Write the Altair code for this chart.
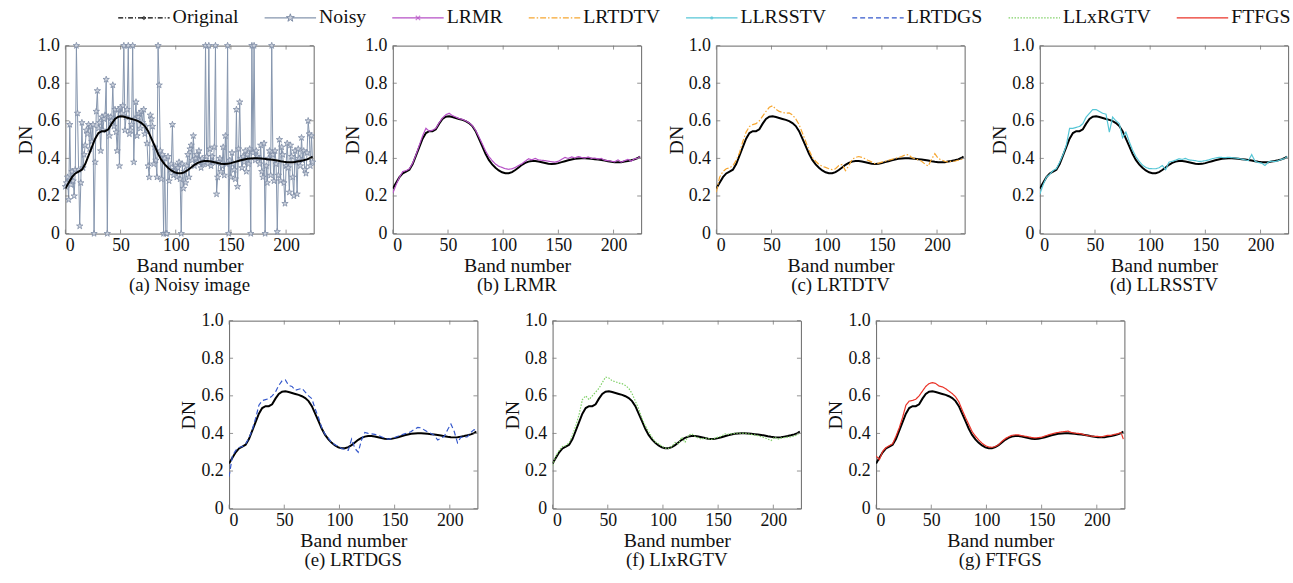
import altair as alt
import pandas as pd

# ---------------- data ----------------
BANDS = [0, 3, 6, 9, 12, 15, 18, 21, 24, 27, 30, 33, 36, 39, 42, 45, 48, 51, 54, 57,
         60, 63, 66, 69, 72, 75, 78, 81, 84, 87, 90, 93, 96, 99, 102, 105, 108, 111, 114, 117,
         120, 123, 126, 129, 132, 135, 138, 141, 144, 147, 150, 153, 156, 159, 162, 165, 168, 171, 174, 177,
         180, 183, 186, 189, 192, 195, 198, 201, 204, 207, 210, 213, 216, 219, 222, 224]

ORIGINAL = [0.240, 0.270, 0.300, 0.320, 0.330, 0.340, 0.370, 0.415, 0.460, 0.505,
            0.535, 0.545, 0.545, 0.555, 0.585, 0.610, 0.622, 0.624, 0.620, 0.615,
            0.610, 0.605, 0.598, 0.588, 0.572, 0.545, 0.505, 0.465, 0.425, 0.392,
            0.368, 0.350, 0.336, 0.326, 0.321, 0.321, 0.327, 0.338, 0.352, 0.366,
            0.376, 0.383, 0.386, 0.386, 0.384, 0.380, 0.376, 0.372, 0.370, 0.371,
            0.375, 0.380, 0.385, 0.390, 0.394, 0.398, 0.400, 0.401, 0.401, 0.400,
            0.398, 0.396, 0.394, 0.392, 0.389, 0.385, 0.382, 0.380, 0.379, 0.380,
            0.383, 0.386, 0.390, 0.395, 0.402, 0.410]

LRMR = [0.215, 0.260, 0.300, 0.330, 0.335, 0.345, 0.375, 0.420, 0.470, 0.520,
        0.560, 0.545, 0.550, 0.560, 0.590, 0.615, 0.632, 0.640, 0.628, 0.620,
        0.612, 0.608, 0.600, 0.590, 0.575, 0.550, 0.515, 0.478, 0.440, 0.410,
        0.388, 0.370, 0.358, 0.352, 0.345, 0.342, 0.345, 0.352, 0.362, 0.372,
        0.385, 0.398, 0.392, 0.400, 0.392, 0.390, 0.388, 0.385, 0.382, 0.380,
        0.385, 0.395, 0.405, 0.400, 0.408, 0.402, 0.410, 0.405, 0.402, 0.408,
        0.400, 0.402, 0.397, 0.400, 0.390, 0.388, 0.385, 0.382, 0.392, 0.380,
        0.388, 0.395, 0.385, 0.398, 0.400, 0.410]

LRTDTV = [0.220, 0.300, 0.330, 0.345, 0.350, 0.360, 0.390, 0.430, 0.490, 0.540,
          0.570, 0.580, 0.585, 0.600, 0.625, 0.650, 0.672, 0.680, 0.662, 0.650,
          0.645, 0.640, 0.642, 0.632, 0.610, 0.580, 0.535, 0.490, 0.445, 0.405,
          0.385, 0.368, 0.358, 0.352, 0.345, 0.340, 0.345, 0.362, 0.368, 0.335,
          0.360, 0.395, 0.405, 0.410, 0.405, 0.398, 0.388, 0.380, 0.372, 0.375,
          0.380, 0.385, 0.390, 0.395, 0.400, 0.405, 0.410, 0.418, 0.420, 0.405,
          0.398, 0.392, 0.385, 0.370, 0.360, 0.395, 0.425, 0.400, 0.392, 0.385,
          0.380, 0.385, 0.385, 0.390, 0.395, 0.400]

LLRSSTV = [0.210, 0.260, 0.300, 0.315, 0.335, 0.345, 0.380, 0.420, 0.470, 0.560,
           0.560, 0.565, 0.570, 0.585, 0.620, 0.640, 0.660, 0.660, 0.650, 0.640,
           0.635, 0.540, 0.620, 0.600, 0.585, 0.510, 0.540, 0.490, 0.445, 0.410,
           0.385, 0.365, 0.352, 0.346, 0.345, 0.345, 0.350, 0.362, 0.340, 0.380,
           0.385, 0.390, 0.398, 0.395, 0.400, 0.392, 0.390, 0.388, 0.384, 0.385,
           0.388, 0.392, 0.398, 0.402, 0.405, 0.405, 0.404, 0.406, 0.404, 0.402,
           0.400, 0.396, 0.392, 0.388, 0.420, 0.385, 0.378, 0.375, 0.362, 0.380,
           0.385, 0.383, 0.388, 0.395, 0.400, 0.410]

LRTDGS = [0.170, 0.280, 0.310, 0.325, 0.330, 0.345, 0.375, 0.420, 0.480, 0.550,
          0.575, 0.580, 0.585, 0.600, 0.620, 0.655, 0.680, 0.685, 0.655, 0.650,
          0.630, 0.635, 0.640, 0.620, 0.600, 0.585, 0.530, 0.485, 0.430, 0.395,
          0.375, 0.350, 0.340, 0.330, 0.320, 0.315, 0.310, 0.370, 0.320, 0.300,
          0.365, 0.405, 0.400, 0.398, 0.395, 0.390, 0.382, 0.375, 0.370, 0.372,
          0.378, 0.385, 0.392, 0.398, 0.402, 0.410, 0.422, 0.432, 0.430, 0.418,
          0.408, 0.400, 0.390, 0.365, 0.375, 0.385, 0.420, 0.450, 0.410, 0.350,
          0.380, 0.378, 0.382, 0.405, 0.420, 0.415]

LLXRGTV = [0.230, 0.280, 0.310, 0.330, 0.335, 0.350, 0.390, 0.440, 0.500, 0.580,
           0.600, 0.580, 0.600, 0.620, 0.640, 0.670, 0.700, 0.695, 0.680, 0.675,
           0.668, 0.665, 0.655, 0.640, 0.612, 0.572, 0.530, 0.480, 0.440, 0.410,
           0.380, 0.355, 0.345, 0.332, 0.322, 0.320, 0.330, 0.352, 0.345, 0.380,
           0.352, 0.390, 0.398, 0.385, 0.375, 0.370, 0.375, 0.372, 0.368, 0.375,
           0.380, 0.385, 0.398, 0.395, 0.398, 0.400, 0.402, 0.400, 0.402, 0.398,
           0.395, 0.392, 0.388, 0.382, 0.378, 0.370, 0.362, 0.380, 0.370, 0.375,
           0.378, 0.380, 0.382, 0.386, 0.395, 0.405]

FTFGS = [0.280, 0.260, 0.305, 0.325, 0.335, 0.345, 0.385, 0.430, 0.485, 0.550,
         0.572, 0.575, 0.582, 0.600, 0.625, 0.650, 0.665, 0.670, 0.666, 0.652,
         0.648, 0.638, 0.625, 0.612, 0.595, 0.568, 0.525, 0.485, 0.448, 0.410,
         0.385, 0.365, 0.348, 0.335, 0.328, 0.326, 0.330, 0.340, 0.358, 0.372,
         0.382, 0.390, 0.392, 0.392, 0.388, 0.385, 0.382, 0.378, 0.376, 0.378,
         0.380, 0.386, 0.392, 0.397, 0.402, 0.405, 0.408, 0.410, 0.412, 0.405,
         0.402, 0.400, 0.398, 0.392, 0.388, 0.386, 0.384, 0.384, 0.382, 0.386,
         0.390, 0.390, 0.395, 0.398, 0.405, 0.370]

NOISY_BANDS = list(range(0, 225))
NOISY = [0.25, 0.27, 0.30, 0.18, 0.58, 0.26, 0.33, 0.28, 0.20, 0.34,
         1.00, 0.64, 0.34, 0.04, 0.27, 0.59, 0.35, 0.42, 0.47, 0.55,
         0.53, 0.58, 0.45, 0.57, 0.49, 0.58, 0.00, 0.38, 0.65, 0.76,
         0.56, 0.59, 0.44, 0.62, 0.55, 0.61, 0.63, 0.82, 0.00, 0.62,
         0.52, 0.62, 0.60, 0.79, 0.57, 0.66, 0.54, 0.44, 0.66, 0.36,
         0.67, 0.64, 0.68, 1.00, 0.55, 0.62, 0.66, 1.00, 0.53, 0.55,
         0.58, 1.00, 0.38, 0.61, 0.70, 0.52, 0.62, 0.64, 0.56, 0.65,
         0.59, 0.66, 0.53, 0.57, 0.48, 0.36, 0.30, 0.63, 0.61, 0.57,
         0.37, 0.46, 0.39, 0.30, 1.00, 0.79, 0.44, 0.29, 0.42, 0.00,
         0.40, 0.00, 0.00, 0.41, 0.28, 0.34, 0.37, 0.58, 0.31, 0.33,
         0.36, 0.30, 0.35, 0.38, 0.29, 0.00, 0.37, 0.24, 0.33, 0.27,
         0.36, 0.42, 0.30, 0.45, 0.47, 0.39, 0.52, 0.36, 0.40, 0.42,
         0.38, 0.44, 0.39, 0.35, 0.40, 0.37, 0.38, 1.00, 0.41, 0.37,
         1.00, 0.45, 0.36, 0.41, 0.38, 0.46, 1.00, 0.21, 0.30, 0.38,
         0.40, 0.33, 0.36, 0.46, 0.31, 0.52, 0.37, 1.00, 0.00, 0.39,
         0.30, 0.43, 0.37, 0.34, 0.29, 0.66, 0.25, 0.45, 0.70, 0.40,
         0.35, 0.41, 0.38, 0.44, 0.33, 0.42, 0.37, 0.45, 0.00, 1.00,
         0.43, 1.00, 0.39, 0.44, 0.41, 0.40, 0.37, 0.47, 0.33, 0.30,
         0.48, 0.00, 0.36, 0.27, 0.40, 0.44, 0.31, 1.00, 0.42, 0.28,
         0.44, 0.37, 0.01, 0.31, 0.50, 0.28, 0.46, 0.42, 0.27, 0.16,
         0.36, 0.48, 0.35, 0.22, 0.47, 0.41, 0.30, 0.20, 0.44, 0.38,
         0.21, 0.45, 0.40, 0.36, 0.51, 0.39, 0.44, 0.34, 0.32, 0.43,
         0.60, 0.53, 0.36, 0.52, 0.38]

X_TICKS = [0, 50, 100, 150, 200]
Y_TICKS = [0, 0.2, 0.4, 0.6, 0.8, 1.0]

SERIES = ["Original", "Noisy", "LRMR", "LRTDTV", "LLRSSTV", "LRTDGS", "LLxRGTV", "FTFGS"]
CAPTIONS = ["(a) Noisy image", "(b) LRMR", "(c) LRTDTV", "(d) LLRSSTV",
            "(e) LRTDGS", "(f) LIxRGTV", "(g) FTFGS"]

# ---------------- styles ----------------
FONT = "Liberation Serif"
W, H = 251, 190
COLORS = {"Original": "#000000", "Noisy": "#8595ad", "LRMR": "#b650c6",
          "LRTDTV": "#f6a630", "LLRSSTV": "#56c6d6", "LRTDGS": "#3558cc",
          "LLxRGTV": "#7fd066", "FTFGS": "#ea3328"}
DASHES = {"Original": [5, 2, 1, 2], "Noisy": [1, 0], "LRMR": [1, 0], "LRTDTV": [6, 2, 1.5, 2],
          "LLRSSTV": [1, 0], "LRTDGS": [5, 3], "LLxRGTV": [1.5, 1.5], "FTFGS": [1, 0]}
STAR = ("M0,-1L0.2245,-0.309L0.9511,-0.309L0.3633,0.118L0.5878,0.809L0,0.382"
        "L-0.5878,0.809L-0.3633,0.118L-0.9511,-0.309L-0.2245,-0.309Z")
XMARK = "M-1,-1L1,1M-1,1L1,-1"
TEXT_COLOR = "#111111"

x_enc = alt.X("band:Q", scale=alt.Scale(domain=[0, 225], nice=False, zero=False),
              axis=alt.Axis(values=X_TICKS, title="Band number", format="d", ticks=False,
                            domain=False, grid=False, labelPadding=3, titlePadding=1,
                            labelOverlap=False))
y_enc = alt.Y("dn:Q", scale=alt.Scale(domain=[0, 1], nice=False),
              axis=alt.Axis(values=Y_TICKS, title="DN", ticks=False, domain=False, grid=False,
                            labelExpr="datum.value == 0 ? '0' : format(datum.value, '.1f')",
                            labelPadding=6, titlePadding=2, labelOverlap=False))


def tick_layers():
    xt = pd.DataFrame({"band": X_TICKS})
    yt = pd.DataFrame({"dn": Y_TICKS})
    st = dict(color="#777777", strokeWidth=0.8)
    b = alt.Chart(xt).mark_rule(**st).encode(x=x_enc, y=alt.value(H), y2=alt.value(H - 4))
    t = alt.Chart(xt).mark_rule(**st).encode(x=x_enc, y=alt.value(0), y2=alt.value(4))
    l = alt.Chart(yt).mark_rule(**st).encode(y=y_enc, x=alt.value(0), x2=alt.value(4))
    r = alt.Chart(yt).mark_rule(**st).encode(y=y_enc, x=alt.value(W), x2=alt.value(W - 4))
    return [b, t, l, r]


def original_layer():
    df = pd.DataFrame({"band": BANDS, "dn": ORIGINAL})
    return alt.Chart(df).mark_line(color="#000000", strokeWidth=2.0, clip=True).encode(x=x_enc, y=y_enc)


def caption_title(text):
    return alt.TitleParams(text, orient="bottom", font=FONT, fontSize=19, fontWeight="normal",
                           color=TEXT_COLOR, offset=1)


def method_panel(name, values, caption):
    df = pd.DataFrame({"band": BANDS, "dn": values})
    m = alt.Chart(df).mark_line(color=COLORS[name], strokeWidth=1.2, strokeDash=DASHES[name],
                                clip=True).encode(x=x_enc, y=y_enc)
    return alt.layer(original_layer(), m, *tick_layers()).properties(
        width=W, height=H, title=caption_title(caption))


def noisy_panel():
    df = pd.DataFrame({"band": NOISY_BANDS, "dn": NOISY})
    ln = alt.Chart(df).mark_line(color=COLORS["Noisy"], strokeWidth=1.0, clip=True).encode(x=x_enc, y=y_enc)
    pts = alt.Chart(df).mark_point(shape=STAR, size=45, filled=True, fill="#cdd3de",
                                   stroke="#7d8ca5", strokeWidth=0.8, opacity=1).encode(x=x_enc, y=y_enc)
    return alt.layer(ln, pts, original_layer(), *tick_layers()).properties(
        width=W, height=H, title=caption_title(CAPTIONS[0]))


# ---------------- legend ----------------
LINE_L = 52
LY = 8
NO_STROKE = alt.ViewBackground(stroke=None)


def legend_entry(name):
    base = alt.Chart(pd.DataFrame({"series": [name]}))
    layers = [
        base.mark_rule(color=COLORS[name], strokeDash=DASHES[name], strokeWidth=1.3).encode(
            x=alt.value(0), x2=alt.value(LINE_L), y=alt.value(LY + 1)),
        base.mark_text(align="left", baseline="middle", font=FONT, fontSize=20, color=TEXT_COLOR).encode(
            x=alt.value(LINE_L + 3), y=alt.value(LY), text="series:N"),
    ]
    mx = alt.value(LINE_L / 2)
    my = alt.value(LY + 1)
    if name == "Original":
        layers.append(base.mark_point(shape="diamond", filled=True, size=20, color="#000000").encode(
            x=mx, y=my))
    elif name == "Noisy":
        layers.append(base.mark_point(shape=STAR, filled=True, size=70, fill="#cdd3de", stroke="#7d8ca5",
                                      strokeWidth=1, opacity=1).encode(x=mx, y=my))
    elif name == "LRMR":
        layers.append(base.mark_point(shape=XMARK, filled=False, size=20, color=COLORS["LRMR"],
                                      strokeWidth=1.2).encode(x=mx, y=my))
    elif name == "LLRSSTV":
        layers.append(base.mark_point(shape="circle", filled=True, size=10,
                                      color=COLORS["LLRSSTV"]).encode(x=mx, y=my))
    return alt.layer(*layers).properties(width=LINE_L, height=20, view=NO_STROKE)


spacer = alt.Chart(pd.DataFrame({"series": [""]})).mark_text().encode(
    x=alt.value(0), y=alt.value(0), text="series:N").properties(width=29, height=20, view=NO_STROKE)

legend = alt.hconcat(spacer, *[legend_entry(s) for s in SERIES], spacing=25)

# ---------------- panels ----------------
pa = noisy_panel()
pb = method_panel("LRMR", LRMR, CAPTIONS[1])
pc = method_panel("LRTDTV", LRTDTV, CAPTIONS[2])
pd_ = method_panel("LLRSSTV", LLRSSTV, CAPTIONS[3])
pe = method_panel("LRTDGS", LRTDGS, CAPTIONS[4])
pf = method_panel("LLxRGTV", LLXRGTV, CAPTIONS[5])
pg = method_panel("FTFGS", FTFGS, CAPTIONS[6])

row1 = alt.hconcat(pa, pb, pc, pd_, spacing=24)
row2 = alt.hconcat(pe, pf, pg, spacing=24)
grid = alt.vconcat(row1, row2, spacing=15, center=True)

chart = alt.vconcat(legend, grid, spacing=7, center=True).properties(
    padding={"left": 15, "top": 0, "right": 2, "bottom": 2}
).configure_view(stroke="#666666", strokeWidth=1).configure_axis(
    labelFont=FONT, titleFont=FONT, labelFontSize=18, titleFontSize=20, labelColor=TEXT_COLOR,
    titleColor=TEXT_COLOR, titleFontWeight="normal", labelOverlap=False
)

chart.save("out.html", embed_options={"renderer": "svg", "actions": False})
